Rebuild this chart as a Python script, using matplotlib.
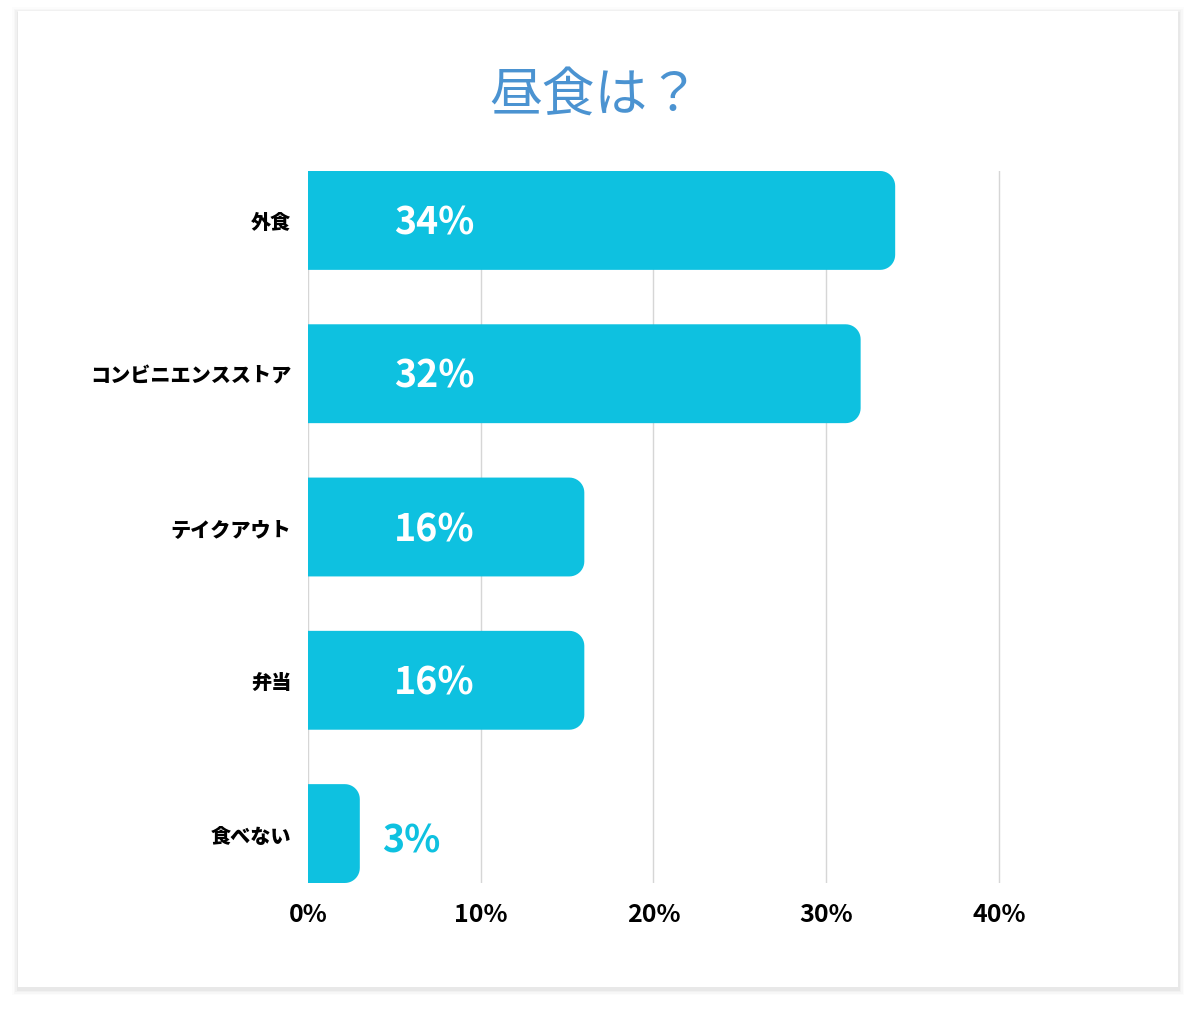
import numpy as np
import matplotlib
matplotlib.use('Agg')
import matplotlib.pyplot as plt
from matplotlib.path import Path
from matplotlib.patches import PathPatch, Rectangle

plt.rcParams['font.family'] = ['Noto Sans CJK JP', 'DejaVu Sans']

# data
categories = ['外食', 'コンビニエンスストア', 'テイクアウト', '弁当', '食べない']
values = [34, 32, 16, 16, 3]
ticks = [0, 10, 20, 30, 40]
title = '昼食は？'

bar_color = '#0ec1e0'
title_color = '#4b93d1'

W, H = 1196, 1012
fig = plt.figure(figsize=(W / 100, H / 100), dpi=100)
fig.patch.set_facecolor('white')

# card with soft shadow
cx0, cy0, cx1, cy1 = 18, 12, 1178, 988
for i, a in enumerate([0.012, 0.018, 0.025, 0.035]):
    g = 6 - i * 1.5
    fig.patches.append(Rectangle(((cx0 - g) / W, 1 - (cy1 + g + 2) / H),
                                 (cx1 - cx0 + 2 * g) / W, (cy1 - cy0 + 2 * g) / H,
                                 transform=fig.transFigure, facecolor='black',
                                 alpha=a, edgecolor='none', zorder=0))
fig.patches.append(Rectangle((cx0 / W, 1 - cy1 / H), (cx1 - cx0) / W, (cy1 - cy0) / H,
                             transform=fig.transFigure, facecolor='white',
                             edgecolor='none', zorder=0.5))

fig.text(595 / W, 1 - 95 / H, title, ha='center', va='center',
         fontsize=38, color=title_color, fontweight='normal', zorder=3)

xmax = 45
ax = fig.add_axes([308 / W, 1 - 884 / H, (xmax * 17.27) / W, 712 / H])
ax.set_zorder(2)
ax.set_facecolor('none')
bh = 0.645
y = np.arange(len(categories))
ax.set_xlim(0, xmax)
ax.set_ylim(len(categories) - 1 + bh / 2, -bh / 2)

for t in ticks:
    ax.axvline(t, color='#d6d6d6', lw=1, zorder=1)


def right_rounded(x0, x1, yc, h, rx, ry, n=12):
    yt, yb = yc - h / 2, yc + h / 2
    pts = [(x0, yt), (x1 - rx, yt)]
    th = np.linspace(-np.pi / 2, 0, n)
    pts += [(x1 - rx + rx * np.cos(t), yt + ry + ry * np.sin(t)) for t in th]
    th = np.linspace(0, np.pi / 2, n)
    pts += [(x1 - rx + rx * np.cos(t), yb - ry + ry * np.sin(t)) for t in th]
    pts += [(x0, yb), (x0, yt)]
    return Path(pts)


px_x = ax.bbox.width / xmax
px_y = ax.bbox.height / (len(categories) - 1 + bh)
rx, ry = 15 / px_x, 15 / px_y

for yi, v in zip(y, values):
    ax.add_patch(PathPatch(right_rounded(0, v, yi, bh, rx, ry),
                           facecolor=bar_color, edgecolor='none', zorder=2))
    if v > 10:
        ax.text(5.0, yi + 0.01, f'{v}%', ha='left', va='center', color='white',
                fontsize=27, fontweight='bold', zorder=3)
    else:
        ax.text(v + 1.3, yi + 0.04, f'{v}%', ha='left', va='center',
                color=bar_color, fontsize=27, fontweight='bold', zorder=3)

ax.set_yticks(y)
ax.set_yticklabels(categories, fontsize=14.5, fontweight='black')
ax.set_xticks(ticks)
ax.set_xticklabels([f'{t}%' for t in ticks], fontsize=18, fontweight='bold')
ax.tick_params(length=0, pad=12, axis='y')
ax.tick_params(length=0, pad=14, axis='x')
for s in ax.spines.values():
    s.set_visible(False)

fig.savefig('out.png', dpi=100, facecolor='white')
